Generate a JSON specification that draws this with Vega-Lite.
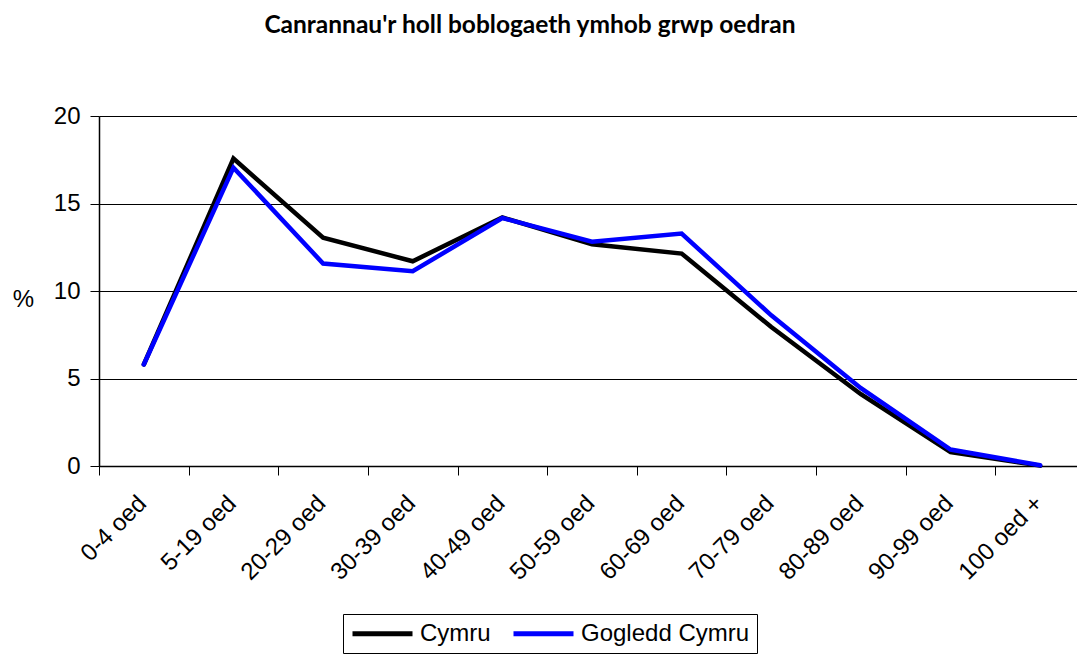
{
  "$schema": "https://vega.github.io/schema/vega-lite/v6.json",
  "autosize": {"type": "none"},
  "width": 978,
  "height": 350,
  "padding": {"left": 99, "top": 116, "right": 0, "bottom": 188},
  "background": "white",
  "title": {
    "text": "Canrannau'r holl boblogaeth ymhob grwp oedran",
    "font": "Lato",
    "fontSize": 24.5,
    "fontWeight": "bold",
    "color": "black",
    "anchor": "middle",
    "frame": "group",
    "dx": -58,
    "offset": 66
  },
  "data": {
    "values": [
      {"age": "0-4 oed", "series": "Cymru", "pct": 5.8},
      {"age": "5-19 oed", "series": "Cymru", "pct": 17.57},
      {"age": "20-29 oed", "series": "Cymru", "pct": 13.05},
      {"age": "30-39 oed", "series": "Cymru", "pct": 11.7},
      {"age": "40-49 oed", "series": "Cymru", "pct": 14.2},
      {"age": "50-59 oed", "series": "Cymru", "pct": 12.67},
      {"age": "60-69 oed", "series": "Cymru", "pct": 12.14},
      {"age": "70-79 oed", "series": "Cymru", "pct": 7.94},
      {"age": "80-89 oed", "series": "Cymru", "pct": 4.1},
      {"age": "90-99 oed", "series": "Cymru", "pct": 0.8},
      {"age": "100 oed +", "series": "Cymru", "pct": 0.02},
      {"age": "0-4 oed", "series": "Gogledd Cymru", "pct": 5.8},
      {"age": "5-19 oed", "series": "Gogledd Cymru", "pct": 17.05},
      {"age": "20-29 oed", "series": "Gogledd Cymru", "pct": 11.57},
      {"age": "30-39 oed", "series": "Gogledd Cymru", "pct": 11.13},
      {"age": "40-49 oed", "series": "Gogledd Cymru", "pct": 14.17},
      {"age": "50-59 oed", "series": "Gogledd Cymru", "pct": 12.82},
      {"age": "60-69 oed", "series": "Gogledd Cymru", "pct": 13.28},
      {"age": "70-79 oed", "series": "Gogledd Cymru", "pct": 8.61},
      {"age": "80-89 oed", "series": "Gogledd Cymru", "pct": 4.45},
      {"age": "90-99 oed", "series": "Gogledd Cymru", "pct": 0.94},
      {"age": "100 oed +", "series": "Gogledd Cymru", "pct": 0.04}
    ]
  },
  "mark": {"type": "line", "strokeWidth": 4.5, "strokeJoin": "miter", "strokeCap": "round"},
  "encoding": {
    "x": {
      "field": "age",
      "type": "nominal",
      "sort": null,
      "bandPosition": 0.5,
      "scale": {"type": "band", "paddingInner": 0, "paddingOuter": 0, "range": [0, 986]},
      "axis": {
        "title": null,
        "tickBand": "extent",
        "labelAngle": -45,
        "labelFont": "Liberation Sans",
        "labelFontSize": 24,
        "labelColor": "black",
        "labelPadding": 16,
        "labelOffset": -10,
        "tickSize": 9,
        "tickColor": "black",
        "domainColor": "black",
        "domainWidth": 1.5,
        "grid": false
      }
    },
    "y": {
      "field": "pct",
      "type": "quantitative",
      "scale": {"domain": [0, 20], "nice": false, "zero": true},
      "axis": {
        "title": "%",
        "titleAngle": 0,
        "titleX": -76,
        "titleY": 183,
        "titleAlign": "center",
        "titleBaseline": "middle",
        "titleFont": "Liberation Sans",
        "titleFontSize": 24,
        "titleFontWeight": "normal",
        "titleColor": "black",
        "values": [0, 5, 10, 15, 20],
        "labelFont": "Liberation Sans",
        "labelFontSize": 24,
        "labelColor": "black",
        "labelPadding": 10,
        "tickSize": 9,
        "tickColor": "black",
        "domainColor": "black",
        "domainWidth": 1.5,
        "gridColor": "black",
        "gridWidth": 1.2,
        "gridOpacity": 1
      }
    },
    "color": {
      "field": "series",
      "type": "nominal",
      "scale": {"domain": ["Cymru", "Gogledd Cymru"], "range": ["#000000", "#0000ff"]},
      "legend": {
        "title": null,
        "orient": "none",
        "legendX": 244,
        "legendY": 498,
        "direction": "horizontal",
        "strokeColor": "black",
        "fillColor": "white",
        "padding": 7,
        "symbolType": "M-1,0H5",
        "symbolSize": 400,
        "symbolStrokeWidth": 5,
        "labelFont": "Liberation Sans",
        "labelFontSize": 24,
        "labelColor": "black",
        "labelOffset": 45,
        "labelLimit": 400,
        "columnPadding": 12
      }
    }
  },
  "config": {"view": {"stroke": null}}
}
